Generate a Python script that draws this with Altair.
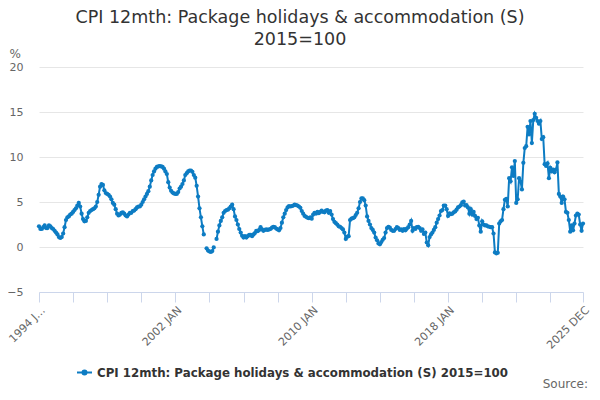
import altair as alt
import pandas as pd

BLUE = "#0d7cc3"
SERIES = "CPI 12mth: Package holidays & accommodation (S) 2015=100"

years = list(range(1994, 2026))
r1994 = [2.3, 2.0, 2.0, 2.2, 2.4, 2.1, 2.1, 2.4, 2.3, 2.1, 2.0, 1.8]
r1995 = [1.6, 1.4, 1.1, 1.0, 1.1, 1.5, 2.2, 3.0, 3.3, 3.4, 3.6, 3.7]
r1996 = [3.9, 4.1, 4.3, 4.6, 4.9, 4.5, 3.7, 3.1, 2.85, 2.9, 3.3, 3.8]
r1997 = [4.0, 4.1, 4.2, 4.3, 4.5, 5.0, 5.8, 6.7, 7.0, 6.9, 6.3, 6.0]
r1998 = [5.9, 5.8, 5.6, 5.3, 4.9, 4.7, 4.2, 3.7, 3.5, 3.6, 3.8, 3.85]
r1999 = [3.7, 3.5, 3.4, 3.6, 3.8, 3.8, 4.0, 4.05, 4.2, 4.4, 4.5, 4.5]
r2000 = [4.7, 5.0, 5.3, 5.6, 5.9, 6.2, 6.7, 7.4, 8.0, 8.4, 8.7, 8.9]
r2001 = [8.95, 9.0, 8.95, 8.9, 8.7, 8.4, 8.1, 7.2, 6.6, 6.25, 6.05, 5.95]
r2002 = [5.9, 5.9, 6.1, 6.5, 6.7, 7.0, 7.4, 8.0, 8.2, 8.4, 8.5, 8.5]
r2003 = [8.35, 8.0, 7.7, 6.8, 5.6, 4.3, 3.3, 2.3, 1.4, None, -0.15, -0.4]
r2004 = [-0.5, -0.55, -0.45, -0.05, None, 0.9, 1.7, 2.4, 2.9, 3.3, 3.8, 4.0]
r2005 = [4.1, 4.15, 4.3, 4.5, 4.7, 4.2, 3.4, 3.0, 2.5, 2.0, 1.6, 1.25]
r2006 = [1.05, 1.2, 1.05, 1.2, 1.35, 1.35, 1.2, 1.4, 1.55, 1.8, 1.75, 1.9]
r2007 = [2.2, 1.95, 1.8, 1.9, 1.95, 1.9, 1.95, 2.0, 2.15, 2.25, 2.2, 2.05]
r2008 = [1.95, 1.85, 2.1, 2.7, 3.3, 3.7, 4.1, 4.4, 4.55, 4.5, 4.55, 4.6]
r2009 = [4.7, 4.65, 4.6, 4.5, 4.35, 4.0, 3.7, 3.45, 3.35, 3.25, 3.2, 3.3]
r2010 = [3.15, 3.6, 3.8, 3.7, 3.9, 3.75, 3.9, 4.05, 3.9, 3.85, 4.05, 4.1]
r2011 = [3.8, 4.0, 3.6, 3.1, 2.8, 2.65, 2.5, 2.3, 2.25, 2.1, 1.95, 1.6]
r2012 = [0.9, 1.15, 1.2, 3.0, 3.15, 3.2, 3.3, 3.55, 3.8, 4.3, 5.0, 5.4]
r2013 = [5.4, 5.2, 4.6, 3.4, 2.9, 2.5, 2.1, 1.9, 1.6, 1.05, 0.75, 0.4]
r2014 = [0.3, 0.55, 0.8, 1.0, 1.6, 2.1, 2.25, 2.15, 1.9, 1.8, 1.8, 2.0]
r2015 = [2.2, 2.1, 1.9, 1.95, 1.8, 2.0, 1.85, 2.05, 2.2, 2.5, 2.9, 1.8]
r2016 = [2.1, 2.0, 2.2, 2.25, 2.1, 1.8, 1.95, 1.45, 1.6, 0.5, 0.2, 1.1]
r2017 = [1.4, 1.6, 1.9, 2.2, 2.7, 3.1, 3.5, 4.0, 4.1, 4.6, 4.6, 4.2]
r2018 = [3.45, 3.75, 3.65, 3.7, 3.85, 3.95, 4.15, 4.4, 4.5, 4.65, 4.95, 5.05]
r2019 = [4.6, 4.65, 4.4, 3.7, 4.2, 3.6, 3.9, 3.45, 3.1, 3.25, 2.4, 1.7]
r2020 = [2.85, 2.5, 2.4, 2.4, 2.3, 2.25, 2.2, 2.2, 1.5, -0.6, -0.7, -0.65]
r2021 = [2.6, 2.85, 3.0, 4.2, 5.25, 5.35, 4.5, 7.65, 7.3, 8.85, 7.9, 9.55]
r2022 = [4.9, 5.3, 7.65, 7.3, 6.4, 9.35, 11.0, 11.2, 13.35, 12.5, 14.0, 11.55]
r2023 = [14.1, 14.8, 14.35, 14.0, 13.7, 14.0, 12.0, 12.2, 9.2, 9.0, 9.3, 7.65]
r2024 = [8.8, 8.4, 8.6, 8.3, 8.6, 9.4, 5.9, 5.6, 4.9, 5.6, 5.3, 3.9]
r2025 = [3.8, 3.0, 1.7, 2.4, 1.85, 2.6, 3.5, 3.7, 3.6, 2.5, 1.8, 2.6]

yearly = [r1994, r1995, r1996, r1997, r1998, r1999, r2000, r2001, r2002, r2003,
          r2004, r2005, r2006, r2007, r2008, r2009, r2010, r2011, r2012, r2013,
          r2014, r2015, r2016, r2017, r2018, r2019, r2020, r2021, r2022, r2023,
          r2024, r2025]

tick_positions = [1994, 1996, 1998, 2000, 2002, 2004, 2006, 2008, 2010, 2012,
                  2014, 2016, 2018, 2020, 2022, 2024, 2025 + 11 / 12]
label_positions = [1994, 2002, 2010, 2018, 2025 + 11 / 12]
label_texts = ["1994 J\u2026", "2002 JAN", "2010 JAN", "2018 JAN", "2025 DEC"]

rows = []
for yr, vals in zip(years, yearly):
    for mi, v in enumerate(vals):
        rows.append({"t": yr + mi / 12, "v": v, "series": SERIES})
df = pd.DataFrame(rows)

label_expr = ""
for p, txt in zip(label_positions, label_texts):
    label_expr += f"abs(datum.value - {p}) < 0.01 ? '{txt}' : "
label_expr += "''"

FONT = "DejaVu Sans"

legend_symbol = ("M-1,0 L1,0 M-0.27,0 A0.27,0.27 0 1,0 0.27,0 "
                 "A0.27,0.27 0 1,0 -0.27,0 Z")

base = alt.Chart(df).encode(
    x=alt.X("t:Q",
            scale=alt.Scale(domain=[1994, 2025 + 11 / 12], nice=False, zero=False),
            axis=alt.Axis(values=tick_positions, labelExpr=label_expr, title=None,
                          grid=False, domainColor="#ccd6eb", tickColor="#ccd6eb",
                          tickSize=10, labelAngle=315, labelAlign="right",
                          labelBaseline="top", labelPadding=2, labelFlush=False,
                          labelOverlap=False, labelColor="#666666", labelFontSize=11,
                          labelFont=FONT)),
    y=alt.Y("v:Q",
            scale=alt.Scale(domain=[-5, 20], nice=False, zero=False),
            axis=alt.Axis(values=[-5, 0, 5, 10, 15, 20], title="%", titleAngle=0,
                          titleAlign="left", titleBaseline="alphabetic", titleX=-30,
                          titleY=-10, titleFontWeight="normal", titleFontSize=12,
                          titleColor="#666666", titleFont=FONT,
                          grid=True, gridColor="#e6e6e6", domain=False, ticks=False,
                          tickSize=0, labelPadding=16, labelColor="#666666",
                          labelFontSize=11, labelFont=FONT)),
    color=alt.Color("series:N", scale=alt.Scale(range=[BLUE]),
                    legend=alt.Legend(title=None, orient="none", legendX=37, legendY=297,
                                      symbolType=legend_symbol, symbolSize=225,
                                      symbolStrokeWidth=2, symbolFillColor=BLUE,
                                      symbolStrokeColor=BLUE, labelFontSize=11.8,
                                      labelFontWeight="bold", labelColor="#333333",
                                      labelFont=FONT, labelLimit=600)),
)

line = base.mark_line(strokeWidth=2, point=alt.OverlayMarkDef(filled=True, size=18))

source = alt.Chart(pd.DataFrame({"label": ["Source:"]})).mark_text(
    align="right", baseline="alphabetic", fontSize=12, color="#666666", font=FONT
).encode(text="label:N", x=alt.value(549), y=alt.value(321))

chart = alt.layer(line, source).properties(
    width=544,
    height=225,
    padding={"left": 31, "top": 59, "right": 9, "bottom": 98},
    autosize=alt.AutoSizeParams(type="none"),
    title=alt.TitleParams(
        text=["CPI 12mth: Package holidays & accommodation (S)", "2015=100"],
        fontSize=17.5, font=FONT, fontWeight="normal", color="#333333",
        anchor="middle", dx=-11, lineHeight=22, offset=-1),
).configure_view(stroke=None)

chart.save("out.html", embed_options={"renderer": "svg", "actions": False})
